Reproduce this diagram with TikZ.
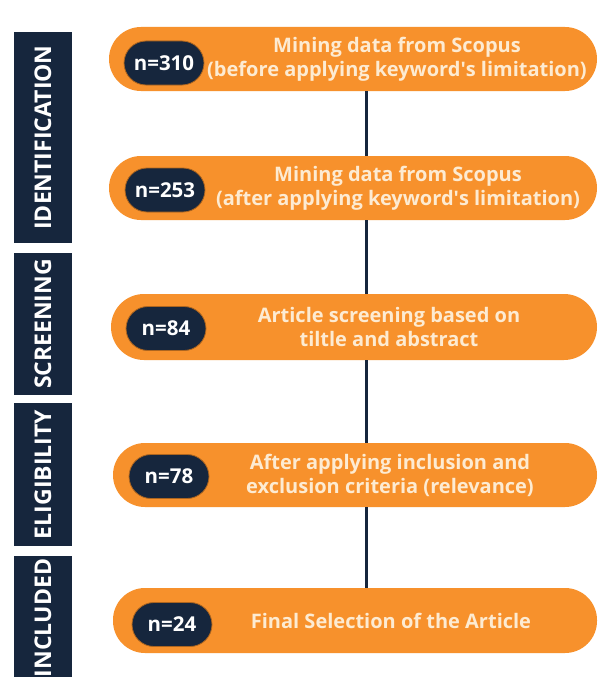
\documentclass[tikz,border=0pt]{standalone}
\usepackage{fontspec}
\setmainfont{Open Sans}
\usetikzlibrary{calc}
\definecolor{navy}{HTML}{16263D}
\definecolor{orng}{HTML}{F7912C}
\definecolor{cream}{HTML}{FDEBD2}
\tikzset{
  phasebar/.style={fill=navy, draw=none, inner sep=0pt, text=white, font=\fontsize{23}{26}\selectfont\bfseries, rotate=90, minimum height=58pt},
  stagebox/.style={fill=orng, draw=none, rounded corners=32pt, inner sep=0pt, minimum height=64pt},
  countpill/.style={fill=navy, draw=orng!70!black, line width=0.8pt, rounded corners=22pt, inner sep=0pt, minimum width=80pt, minimum height=44pt, text=white, font=\fontsize{20.5}{22}\selectfont\bfseries},
  stagetext/.style={text=cream, align=center, font=\fontsize{20}{24}\selectfont\bfseries, inner sep=0pt},
  spineline/.style={draw=navy, line width=3pt}
}
\begin{document}
\begin{tikzpicture}[x=1pt,y=-1pt]
\useasboundingbox (0,0) rectangle (598,677);
\fill[white] (0,0) rectangle (598,677);
\clip (0,0) rectangle (598,677);
% phase bars
\node[phasebar, minimum width=211pt] (p1) at (43,137.5) {IDENTIFICATION};
\node[phasebar, minimum width=142pt] (p2) at (43,324) {SCREENING};
\node[phasebar, minimum width=143pt] (p3) at (43,474.5) {ELIGIBILITY};
\node[phasebar, minimum width=124pt] (p4) at (43,618) {INCLUDED};
% spine x position
\coordinate (spine) at (366,0);
% stage boxes
\node[stagebox, minimum width=488pt] (b1) at (353,59) {};
\node[stagebox, minimum width=488pt] (b2) at (353,188) {};
\node[stagebox, minimum width=486pt, minimum height=66pt, rounded corners=33pt] (b3) at (354,327) {};
\node[stagebox, minimum width=484pt] (b4) at (355,475) {};
\node[stagebox, minimum width=484pt, minimum height=65pt] (b5) at (355,620.5) {};
% connectors
\draw[spineline] (b1.south -| spine) -- (b2.north -| spine);
\draw[spineline] (b2.south -| spine) -- (b3.north -| spine);
\draw[spineline] (b3.south -| spine) -- (b4.north -| spine);
\draw[spineline] (b4.south -| spine) -- (b5.north -| spine);
% count pills
\node[countpill] (c1) at (164,63) {n=310};
\node[countpill] (c2) at (165,190) {n=253};
\node[countpill] (c3) at (166,328.5) {n=84};
\node[countpill] (c4) at (169,476.5) {n=78};
\node[countpill] (c5) at (172,624.5) {n=24};
% stage texts
\node[stagetext] (t1) at (397,59) {Mining data from Scopus\\(before applying keyword\textquotesingle s limitation)};
\node[stagetext] (t2) at (398,188) {Mining data from Scopus\\(after applying keyword\textquotesingle s limitation)};
\node[stagetext] (t3) at (389,327) {Article screening based on\\tiltle and abstract};
\node[stagetext] (t4) at (390,475) {After applying inclusion and\\exclusion criteria (relevance)};
\node[stagetext] (t5) at (391,621) {Final Selection of the Article};
\end{tikzpicture}
\end{document}
